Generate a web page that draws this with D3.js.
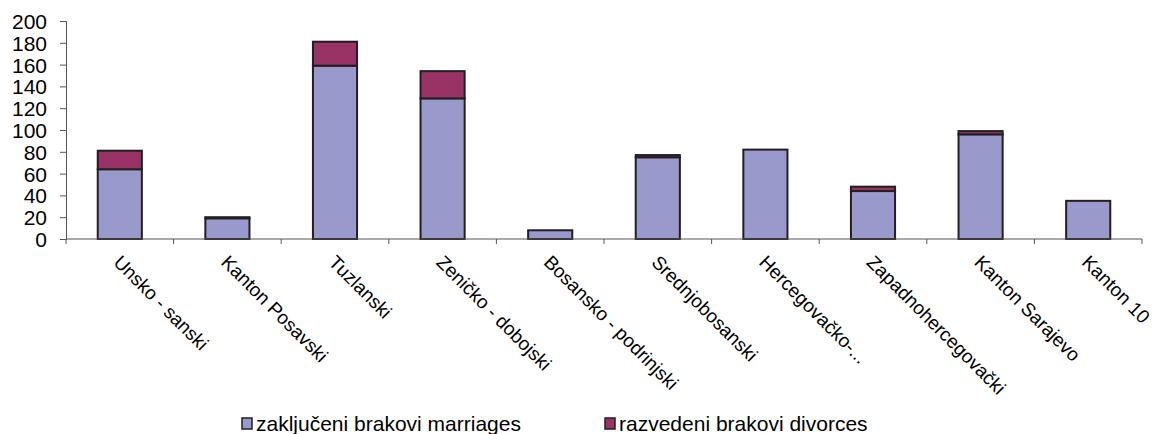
<!DOCTYPE html>
<html>
<head>
<meta charset="utf-8">
<script src="https://cdn.jsdelivr.net/npm/d3@7"></script>
<style>
body { margin: 0; background: #fff; }
text { font-family: "Liberation Sans", Arial, sans-serif; fill: #000; }
</style>
</head>
<body>
<svg id="chart" width="1155" height="434"></svg>
<script>
var categories = ['Unsko - sanski', 'Kanton Posavski', 'Tuzlanski', 'Zeničko - dobojski',
    'Bosansko - podrinjski', 'Srednjobosanski', 'Hercegovačko-...', 'Zapadnohercegovački',
    'Kanton Sarajevo', 'Kanton 10']
var marriages = [64, 19, 159, 129, 8, 75, 82, 44, 96, 35]
var divorces = [17, 1, 22, 25, 0, 2, 0, 4, 3, 0]
var yTicks = [0, 20, 40, 60, 80, 100, 120, 140, 160, 180, 200]
var seriesNames = ['zaključeni brakovi marriages', 'razvedeni brakovi divorces']
var colors = ['#9999cc', '#993366']

var svg = d3.select('#chart')
var plotLeft = 66, plotRight = 1142, plotTop = 21, plotBottom = 239

var x = d3.scaleBand().domain(categories).range([plotLeft, plotRight]).paddingInner(0.59).paddingOuter(0.295)
var y = d3.scaleLinear().domain([0, 200]).range([plotBottom, plotTop])

var rows = categories.map(function(c, i) {
    return { cat: c, marriages: marriages[i], divorces: divorces[i] }
})
var stack = d3.stack().keys(['marriages', 'divorces'])(rows)

// bars
svg.append('g').selectAll('g')
    .data(stack)
    .enter()
        .append('g')
        .attr('fill', function(d, i) { return colors[i]; })
        .selectAll('rect')
        .data(function(d) { return d; })
        .enter()
            .append('rect')
            .attr('x', function(d) { return x(d.data.cat); })
            .attr('width', x.bandwidth())
            .attr('y', function(d) { return y(d[1]); })
            .attr('height', function(d) { return y(d[0]) - y(d[1]); })
            .attr('stroke', '#231f20')
            .attr('stroke-width', 2)

// y axis
var gy = svg.append('g').attr('transform', 'translate(' + plotLeft + ',0)')
    .call(d3.axisLeft(y).tickValues(yTicks).tickSize(6).tickPadding(13))
gy.selectAll('path, line').attr('stroke', '#555')
gy.selectAll('text').style('font-size', '21px').attr('dy', '0.36em')

// x axis
var edges = categories.map(function(c) { return x(c) - x.step() * x.paddingInner() / 2; })
edges.push(plotRight)
var gx = svg.append('g')
gx.append('line').attr('x1', plotLeft).attr('x2', plotRight).attr('y1', plotBottom).attr('y2', plotBottom)
    .attr('stroke', '#555')
gx.selectAll('line.tick')
    .data(edges)
    .enter()
        .append('line')
        .attr('class', 'tick')
        .attr('x1', function(d) { return d; })
        .attr('x2', function(d) { return d; })
        .attr('y1', plotBottom)
        .attr('y2', plotBottom + 5)
        .attr('stroke', '#555')
gx.selectAll('text')
    .data(categories)
    .enter()
        .append('text')
        .attr('transform', function(d) {
            return 'translate(' + (x(d) + x.bandwidth() / 2 + 2) + ',' + (plotBottom + 15) + ') rotate(45)'
        })
        .attr('dy', '0.7em')
        .style('font-size', '19px')
        .text(function(d) { return d; })

// legend
var legendX = [242, 605]
var lg = svg.append('g').selectAll('g')
    .data(seriesNames)
    .enter()
        .append('g')
        .attr('transform', function(d, i) { return 'translate(' + legendX[i] + ',418)'; })
lg.append('rect')
    .attr('width', 10).attr('height', 11)
    .attr('fill', function(d, i) { return colors[i]; })
    .attr('stroke', '#231f20').attr('stroke-width', 1.5)
lg.append('text')
    .attr('x', 14).attr('y', 13)
    .style('font-size', '21px')
    .text(function(d) { return d; })
</script>
</body>
</html>
